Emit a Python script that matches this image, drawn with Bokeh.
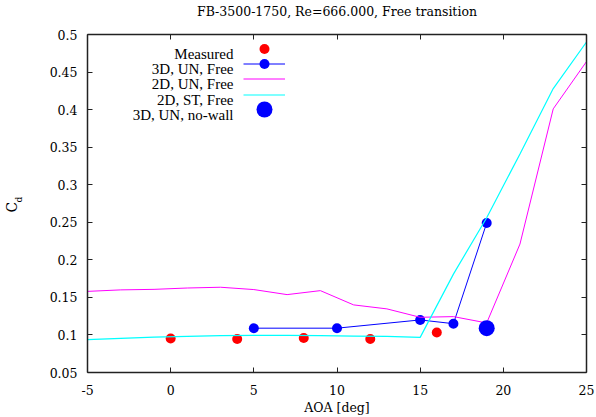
import math
from bokeh.plotting import figure
from bokeh.models import (Range1d, LinearAxis, FixedTicker, Label, Legend, LegendItem, Title)
from bokeh.embed import file_html
from bokeh.resources import INLINE

# ---------------- data ----------------
meas_aoa = [0, 4, 8, 12, 16]
meas_cd = [0.0953, 0.0945, 0.0959, 0.0945, 0.1033]

un3d_aoa = [5, 10, 15, 17, 19]
un3d_cd = [0.109, 0.109, 0.120, 0.115, 0.249]

un2d_aoa = [-5, -3, -1, 1, 3, 5, 7, 9, 11, 13, 15, 17, 19, 21, 23, 25]
un2d_cd = [0.158, 0.160, 0.1607, 0.1625, 0.1635, 0.1604, 0.1537, 0.159,
           0.140, 0.1347, 0.1235, 0.1244, 0.116, 0.221, 0.401, 0.464]

st2d_aoa = [-5, -3, -1, 1, 3, 5, 7, 9, 11, 13, 15, 17, 19, 21, 23, 25]
st2d_cd = [0.0937, 0.0955, 0.097, 0.098, 0.099, 0.0995, 0.0995, 0.099,
           0.0985, 0.098, 0.0968, 0.181, 0.256, 0.341, 0.428, 0.490]

nowall_aoa = [19]
nowall_cd = [0.109]

series_names = ["Measured", "3D, UN, Free", "2D, UN, Free", "2D, ST, Free", "3D, UN, no-wall"]

x_ticks = [-5, 0, 5, 10, 15, 20, 25]
x_tick_labels = ["-5", "0", "5", "10", "15", "20", "25"]
y_ticks = [0.05, 0.1, 0.15, 0.2, 0.25, 0.3, 0.35, 0.4, 0.45, 0.5]
y_tick_labels = ["0.05", "0.1", "0.15", "0.2", "0.25", "0.3", "0.35", "0.4", "0.45", "0.5"]

title_text = "FB-3500-1750, Re=666.000, Free transition"
x_label = "AOA [deg]"
y_label_main, y_label_sub = "C", "d"

# ---------------- layout ----------------
FONT = "Liberation Serif"      # legend texts
FONT_AX = "DejaVu Serif"       # axes, title, C_d
AX_SIZE = "12.5px"
W, H = 596, 417
FL, FR, FT, FB = 87, 586, 34, 372
FW, FH = FR - FL, FB - FT
X0, X1, Y0, Y1 = -5, 25, 0.05, 0.5


def xd(fx):
    return X0 + (fx - FL) * (X1 - X0) / FW


def yd(fy):
    return Y0 + (FB - fy) * (Y1 - Y0) / FH


p = figure(width=W, height=H, x_range=Range1d(X0, X1), y_range=Range1d(Y0, Y1),
           output_backend="svg", toolbar_location=None, title_location=None,
           x_axis_type=None, y_axis_type=None,
           min_border_left=FL, min_border_right=W - FR,
           min_border_top=FT, min_border_bottom=H - FB)
p.outline_line_color = None
p.background_fill_color = "white"
p.border_fill_color = "white"


def make_axis(ticks, labels, show_labels):
    ax = LinearAxis(ticker=FixedTicker(ticks=ticks))
    if show_labels:
        ax.major_label_overrides = dict(zip(ticks, labels))
        ax.major_label_text_font_size = AX_SIZE
    else:
        ax.major_label_overrides = {t: "" for t in ticks}
        ax.major_label_standoff = 0
        ax.major_label_text_font_size = "1px"
    ax.major_tick_in = 5
    ax.major_tick_out = 0
    ax.minor_tick_line_color = None
    ax.major_tick_line_color = "#222222"
    ax.major_tick_line_width = 1
    ax.axis_line_color = "#222222"
    ax.axis_line_width = 1.5
    ax.major_label_text_font = FONT_AX
    ax.major_label_text_color = "black"
    ax.axis_label_text_font = FONT_AX
    ax.axis_label_text_font_style = "normal"
    ax.axis_label_text_font_size = AX_SIZE
    ax.axis_label_text_color = "black"
    return ax


ax_b = make_axis(x_ticks, x_tick_labels, True)
ax_b.major_label_standoff = 12
ax_b.axis_label = x_label
ax_b.axis_label_standoff = 2
ax_l = make_axis(y_ticks, y_tick_labels, True)
ax_l.major_label_standoff = 10
ax_l.axis_label = " "            # spacer between tick labels and the C_d label
ax_l.axis_label_text_font = FONT
ax_l.axis_label_text_font_size = "15px"
ax_l.axis_label_standoff = 4
ax_t = make_axis(x_ticks, x_tick_labels, False)
ax_t.axis_label = title_text     # chart title, centred over the plot
ax_t.axis_label_standoff = 16
ax_r = make_axis(y_ticks, y_tick_labels, False)
p.add_layout(ax_b, "below")
p.add_layout(ax_l, "left")
p.add_layout(ax_t, "above")
p.add_layout(ax_r, "right")

# y-axis label C_d as two titles (main letter + subscript)
p.add_layout(Title(text=y_label_sub, align="left", offset=170, standoff=0,
                   text_font=FONT_AX, text_font_size="9px", text_font_style="normal",
                   text_color="black"), "left")
p.add_layout(Title(text=y_label_main, align="left", offset=160, standoff=-16,
                   text_font=FONT_AX, text_font_size="14px", text_font_style="normal",
                   text_color="black"), "left")

# ---------------- glyphs ----------------
r_meas = p.scatter(meas_aoa, meas_cd, size=10, fill_color="#ff0000", line_color=None)
r_3d_line = p.line(un3d_aoa, un3d_cd, line_color="#0000ff", line_width=1)
r_3d_pts = p.scatter(un3d_aoa, un3d_cd, size=10, fill_color="#0000ff", line_color=None)
r_2dun = p.line(un2d_aoa, un2d_cd, line_color="#ff00ff", line_width=1)
r_2dst = p.line(st2d_aoa, st2d_cd, line_color="#00ffff", line_width=1.2)
r_nowall = p.scatter(nowall_aoa, nowall_cd, size=16, fill_color="#0000ff", line_color=None)

# ---------------- legend: one Bokeh legend per row, text right-aligned like gnuplot ----------------
leg_renderers = [[r_meas], [r_3d_line, r_3d_pts], [r_2dun], [r_2dst], [r_nowall]]
leg_glyph_h = [25, 25, 25, 25, 40]
leg_row_centers = [14.3, 29.6, 44.8, 60.0, 75.2]   # px below frame top
leg_glyph_left = 155.7                              # px right of frame left
for rends, gh, c in zip(leg_renderers, leg_glyph_h, leg_row_centers):
    lg = Legend(items=[LegendItem(label=" ", renderers=rends)],
                location=(leg_glyph_left, FH - c - gh / 2),
                glyph_width=42, glyph_height=gh, spacing=0, padding=0, margin=0,
                label_standoff=0, label_width=0, label_height=5,
                label_text_font_size="4px",
                background_fill_alpha=0, border_line_color=None)
    p.add_layout(lg)

for i, name in enumerate(series_names):
    p.add_layout(Label(x=xd(233), y=yd(34 + leg_row_centers[i] + 5.0), text=name,
                       text_align="right", text_baseline="alphabetic",
                       text_font=FONT, text_font_size="15px", text_color="black"))

open("out.html", "w").write(file_html(p, INLINE))
